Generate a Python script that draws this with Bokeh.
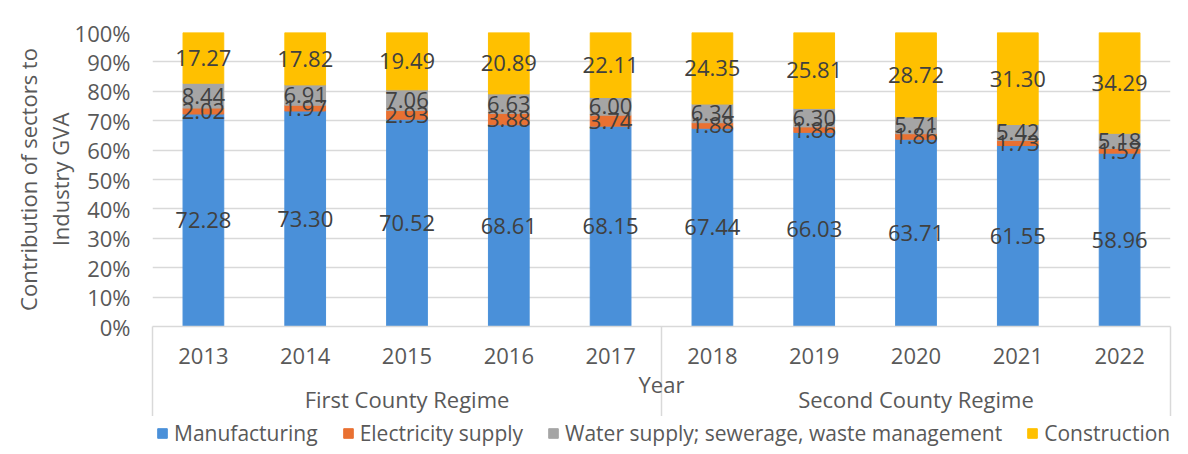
from bokeh.plotting import figure
from bokeh.layouts import column
from bokeh.models import (ColumnDataSource, Range1d, LinearAxis, FixedTicker,
                          Legend, LegendItem, PrintfTickFormatter)
from bokeh.embed import file_html
from bokeh.resources import INLINE
from bokeh.core.properties import value

years = ["2013", "2014", "2015", "2016", "2017", "2018", "2019", "2020", "2021", "2022"]
groups = ["First County Regime", "Second County Regime"]
group_sizes = [5, 5]
manufacturing = [72.28, 73.30, 70.52, 68.61, 68.15, 67.44, 66.03, 63.71, 61.55, 58.96]
electricity = [2.02, 1.97, 2.93, 3.88, 3.74, 1.88, 1.86, 1.86, 1.73, 1.57]
water = [8.44, 6.91, 7.06, 6.63, 6.00, 6.34, 6.30, 5.71, 5.42, 5.18]
construction = [17.27, 17.82, 19.49, 20.89, 22.11, 24.35, 25.81, 28.72, 31.30, 34.29]
series_names = ["Manufacturing", "Electricity supply",
                "Water supply; sewerage, waste management", "Construction"]
y_ticks = list(range(0, 101, 10))

colors = ["#4A90D9", "#E97132", "#A5A5A5", "#FFC000"]
FONT = "Open Sans"
FS = "22px"
TXT = "#595959"
GRID = "#D9D9D9"
BL, BR = 152, 8

n = len(years)
xs = [i + 0.5 for i in range(n)]
keys = ["m", "e", "w", "c"]
series = [manufacturing, electricity, water, construction]
src = ColumnDataSource(dict(x=xs, **{k: s for k, s in zip(keys, series)}))

p = figure(frame_width=1018, frame_height=294, x_range=Range1d(0, n), y_range=Range1d(0, 100),
           output_backend="svg", toolbar_location=None, x_axis_location=None,
           min_border_left=BL, min_border_right=BR, min_border_top=32,
           min_border_bottom=0)
p.outline_line_color = None
p.xgrid.visible = False
p.ygrid.grid_line_color = GRID
p.ygrid.grid_line_width = 1.5
p.ygrid.ticker = FixedTicker(ticks=y_ticks)

renderers = p.vbar_stack(keys, x="x", width=0.4, color=colors, source=src)

# data labels at segment centres
lx, ly, lt = [], [], []
for i in range(n):
    base = 0.0
    for s in series:
        v = s[i]
        lx.append(xs[i])
        ly.append(base + v / 2)
        lt.append(f"{v:.2f}")
        base += v
p.text(x=lx, y=ly, text=lt, text_align="center", text_baseline="middle",
       text_font=value(FONT), text_font_size=FS, text_color="#404040")

# y axis
ya = p.yaxis[0]
ya.ticker = FixedTicker(ticks=y_ticks)
ya.formatter = PrintfTickFormatter(format="%d%%")
ya.axis_line_color = None
ya.major_tick_line_color = None
ya.minor_tick_line_color = None
ya.major_tick_out = 0
ya.major_label_standoff = 22
ya.major_label_text_font = FONT
ya.major_label_text_font_size = FS
ya.major_label_text_color = TXT
ya.axis_label = "Contribution of sectors to\nIndustry GVA"
ya.axis_label_text_font = FONT
ya.axis_label_text_font_size = "22px"
ya.axis_label_text_font_style = "normal"
ya.axis_label_text_color = TXT
ya.axis_label_text_line_height = 1.05
ya.axis_label_standoff = -3

# group boundaries
bounds = [0]
for g in group_sizes:
    bounds.append(bounds[-1] + g)
group_centres = [(bounds[k] + bounds[k + 1]) / 2 for k in range(len(groups))]

# year axis (minor ticks draw the group separators)
SEP = 94
xa = LinearAxis(ticker=FixedTicker(ticks=xs, minor_ticks=bounds),
                major_label_overrides={x: y for x, y in zip(xs, years)})
xa.axis_line_color = GRID
xa.axis_line_width = 1.5
xa.major_tick_out = 0
xa.major_tick_in = 0
xa.major_tick_line_color = None
xa.minor_tick_in = 0
xa.minor_tick_out = SEP
xa.minor_tick_line_color = GRID
xa.minor_tick_line_width = 1.5
xa.major_label_standoff = 21 - SEP
xa.major_label_text_font = FONT
xa.major_label_text_font_size = FS
xa.major_label_text_color = TXT
xa.axis_label = "Year"
xa.axis_label_text_font = FONT
xa.axis_label_text_font_size = "22px"
xa.axis_label_text_font_style = "normal"
xa.axis_label_text_color = TXT
xa.axis_label_standoff = 2
p.add_layout(xa, "below")

# group axis
ga = LinearAxis(ticker=FixedTicker(ticks=group_centres, minor_ticks=[]),
                major_label_overrides={x: g for x, g in zip(group_centres, groups)})
ga.axis_line_color = None
ga.major_tick_line_color = None
ga.minor_tick_line_color = None
ga.major_tick_out = 0
ga.major_tick_in = 0
ga.major_label_standoff = -18
ga.major_label_text_font = FONT
ga.major_label_text_font_size = FS
ga.major_label_text_color = TXT
p.add_layout(ga, "below")

# legend strip (its swatch renderers reuse the data but are hidden)
lg = figure(frame_width=1018, frame_height=32, x_range=Range1d(0, n), y_range=Range1d(-200, -100),
            output_backend="svg", toolbar_location=None,
            x_axis_location=None, y_axis_location=None,
            min_border_left=BL, min_border_right=BR, min_border_top=0, min_border_bottom=0)
lg.outline_line_color = None
lg.xgrid.visible = False
lg.ygrid.visible = False
swatches = lg.vbar_stack(keys, x="x", width=0.4, color=colors, source=src)
for r in swatches:
    r.visible = False
legend = Legend(items=[LegendItem(label=nm, renderers=[r]) for nm, r in zip(series_names, swatches)],
                orientation="horizontal", location=(4, 1),
                glyph_width=12, glyph_height=12, label_standoff=6, spacing=24,
                padding=0, margin=0, border_line_color=None, background_fill_alpha=0,
                label_text_font=FONT, label_text_font_size="21px", label_text_color=TXT)
lg.add_layout(legend, "center")

layout = column(p, lg, spacing=0)
open("out.html", "w").write(file_html(layout, INLINE))
